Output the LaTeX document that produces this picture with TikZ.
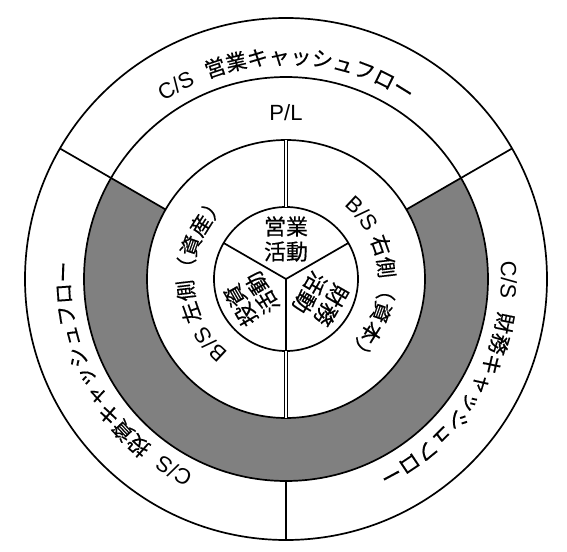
\documentclass[tikz,border=0pt]{standalone}
\usepackage{fontspec}
\setmainfont{Liberation Sans}
\newfontfamily\cjkfam[FakeBold=0.35]{Noto Sans CJK JP}
\newfontfamily\latfam{Liberation Sans}
\usetikzlibrary{decorations.text}
\newcommand\cjkf{\cjkfam\fontsize{21}{26}\selectfont}
\newcommand\cjkc{\cjkfam\fontsize{22}{25}\selectfont}
\newcommand\latf{\latfam\fontsize{22}{26}\selectfont}
\begin{document}
\begin{tikzpicture}[x=1pt,y=1pt,line width=1.7pt,
  ring/.style={draw=black},
  sep/.style={draw=black},
  dbl/.style={draw=black,double=white,line width=1.4pt,double distance=1.8pt},
  arctext/.style={decorate,decoration={text along path,text align=center,text={#1}}},
  lbl/.style={inner sep=0pt,align=center,font=\cjkc}]
\def\Ra{261}\def\Rb{202}\def\Rc{139}\def\Rd{72}
\useasboundingbox (-286,-272) rectangle (281,279);
\fill[white] (-286,-272) rectangle (281,279);
% gray part of the P/L ring
\fill[gray] (150:\Rb) arc[start angle=150,end angle=390,radius=\Rb]
  -- (30:\Rc) arc[start angle=30,end angle=-210,radius=\Rc] -- cycle;
% circles
\draw[ring] (0,0) circle[radius=\Ra];
\draw[ring] (0,0) circle[radius=\Rb];
\draw[ring] (0,0) circle[radius=\Rc];
\draw[ring] (0,0) circle[radius=\Rd];
% dividers
\draw[sep] (150:\Rc) -- (150:\Ra);
\draw[sep] (30:\Rc) -- (30:\Ra);
\draw[sep] (270:\Rb) -- (270:\Ra);
\draw[dbl] (90:\Rd) -- (90:\Rc);
\draw[dbl] (270:\Rd) -- (270:\Rc);
\draw[sep] (0,0) -- (30:\Rd);
\draw[sep] (0,0) -- (150:\Rd);
\draw[sep] (0,0) -- (270:\Rd);
% outer ring texts
\path[arctext={|\latf|C/S{\kern13pt}|\cjkf|営業キャッシュフロー}]
  (150:215) arc[start angle=150,end angle=30,radius=215];
\path[arctext={|\latf|C/S{\kern13pt}|\cjkf|投資キャッシュフロー}]
  (270:215) arc[start angle=270,end angle=150,radius=215];
\path[arctext={|\latf|C/S{\kern13pt}|\cjkf|財務キャッシュフロー}]
  (30:215) arc[start angle=30,end angle=-90,radius=215];
% B/S ring texts
\path[arctext={|\latf|B/S{\kern6pt}|\cjkf|左側（資産）}]
  (270:93) arc[start angle=270,end angle=90,radius=93];
\path[arctext={|\latf|B/S{\kern6pt}|\cjkf|右側（資本）}]
  (90:93) arc[start angle=90,end angle=-90,radius=93];
% P/L
\node[lbl,font=\latf] (pl) at (0,166) {P/L};
% centre texts
\node[lbl] (eigyo) at (90:40) {営業\\活動};
\node[lbl,rotate=120] (toshi) at (210:40) {投資\\活動};
\node[lbl,rotate=240] (zaimu) at (330:40) {財務\\活動};
\end{tikzpicture}
\end{document}
